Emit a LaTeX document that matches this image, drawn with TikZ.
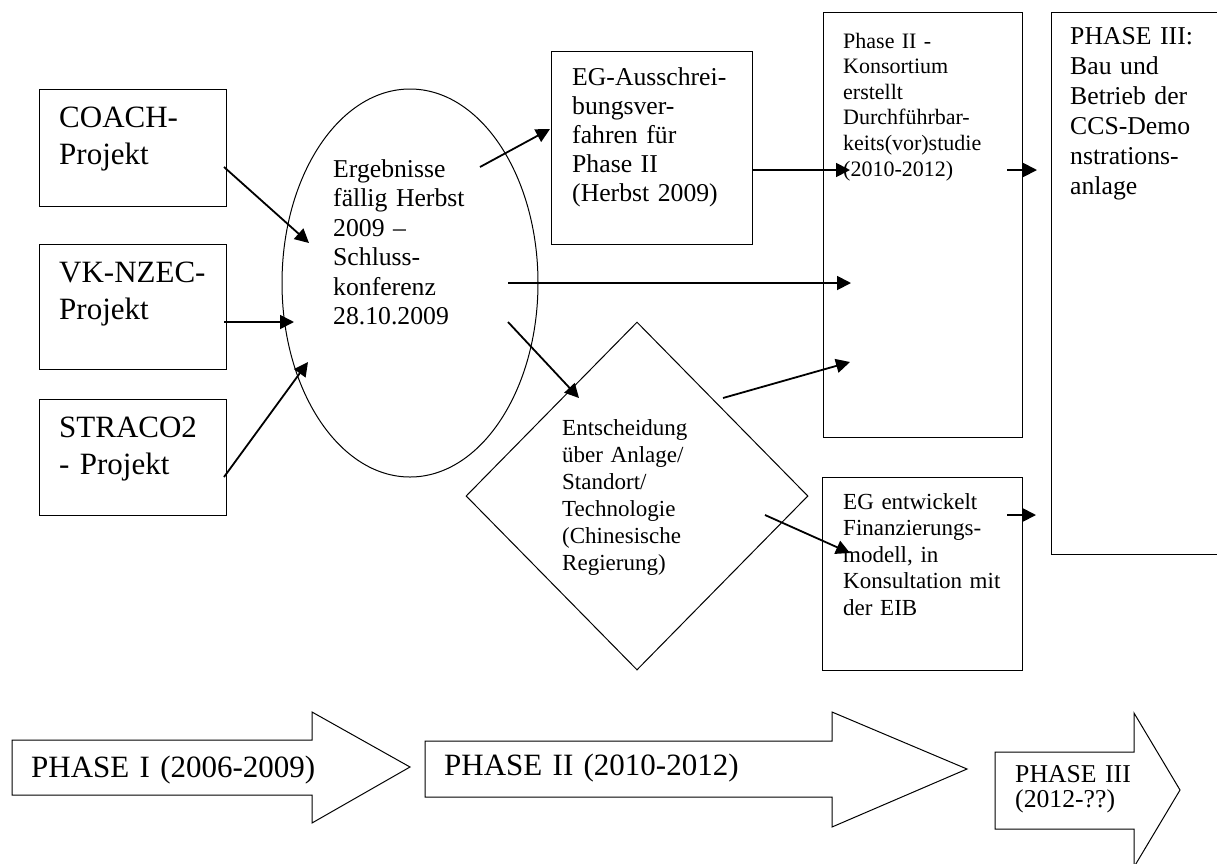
\documentclass[tikz,border=0pt]{standalone}
\usepackage{fontspec}
\setmainfont{Liberation Serif}
\usetikzlibrary{shapes.geometric,arrows.meta}
\begin{document}
\begin{tikzpicture}[x=1pt,y=-1pt,
  box/.style={draw,line width=1.3pt,rectangle,inner sep=0pt,anchor=north west},
  thinshape/.style={draw,line width=1pt,inner sep=0pt},
  txt/.style={anchor=base west,inner sep=0pt,text width=300pt,align=left},
  big/.style={txt,font=\fontsize{31}{37}\selectfont},
  mid/.style={txt,font=\fontsize{25.7}{29.5}\selectfont},
  small/.style={txt,font=\fontsize{23}{26.8}\selectfont},
  smaller/.style={txt,font=\fontsize{22}{25.6}\selectfont},
  conn/.style={line width=1.8pt,-{Triangle[length=14pt,width=14pt]}},
  phasearrow/.style={draw,line width=1pt,line join=miter}
]
\useasboundingbox (0,0) rectangle (1217,863);
\clip (0,0) rectangle (1217,863);

% boxes
\node[box,minimum width=187pt,minimum height=117pt] (coach) at (39,89) {};
\node[box,minimum width=187pt,minimum height=125pt] (vk) at (39,244) {};
\node[box,minimum width=187pt,minimum height=116pt] (straco) at (39,399) {};
\node[box,minimum width=201pt,minimum height=193pt] (egaus) at (551,51) {};
\node[box,minimum width=199pt,minimum height=425pt] (ph2) at (823,12) {};
\node[box,minimum width=200pt,minimum height=542pt] (ph3) at (1051,12) {};
\node[box,minimum width=200pt,minimum height=193pt] (fin) at (822,477) {};
\node[thinshape,ellipse,minimum width=256pt,minimum height=388pt] (erg) at (410,283) {};
\node[thinshape,diamond,minimum width=342pt,minimum height=348pt] (dec) at (637,496) {};

% texts
\node[big] (tcoach) at (59,127) {COACH-\\Projekt};
\node[big] (tvk) at (59,282) {VK-NZEC-\\Projekt};
\node[big] (tstraco) at (59,437) {STRACO2\\- Projekt};
\node[mid] (terg) at (333,177) {Ergebnisse\\fällig Herbst\\2009 –\\Schluss-\\konferenz\\28.10.2009};
\node[mid,font=\fontsize{25.7}{29.2}\selectfont] (tegaus) at (572,85) {EG-Ausschrei-\\bungsver-\\fahren für\\Phase II\\(Herbst 2009)};
\node[smaller] (tph2) at (843,48) {Phase II -\\Konsortium\\erstellt\\Durchführbar-\\keits(vor)studie\\(2010-2012)};
\node[mid,font=\fontsize{25.7}{30}\selectfont] (tph3) at (1070,44) {PHASE III:\\Bau und\\Betrieb der\\CCS-Demo\\nstrations-\\anlage};
\node[small,font=\fontsize{23}{27}\selectfont] (tdec) at (562,435) {Entscheidung\\über Anlage/\\Standort/\\Technologie\\(Chinesische\\Regierung)};
\node[small,font=\fontsize{23}{26.5}\selectfont] (tfin) at (843,509) {EG entwickelt\\Finanzierungs-\\modell, in\\Konsultation mit\\der EIB};

% connector endpoints
\coordinate (a1s) at (224,167); \coordinate (a1e) at (309,243);
\coordinate (a2s) at (224,322); \coordinate (a2e) at (294,322);
\coordinate (a3s) at (224,477); \coordinate (a3e) at (308,362);
\coordinate (a4s) at (480,167); \coordinate (a4e) at (550,129);
\coordinate (a5s) at (508,283); \coordinate (a5e) at (851,283);
\coordinate (a6s) at (508,322); \coordinate (a6e) at (579,398);
\coordinate (a7s) at (752,170); \coordinate (a7e) at (850,170);
\coordinate (a8s) at (1007,170); \coordinate (a8e) at (1037,170);
\coordinate (a9s) at (723,398); \coordinate (a9e) at (850,362);
\coordinate (a10s) at (765,515); \coordinate (a10e) at (850,553);
\coordinate (a11s) at (1007,515); \coordinate (a11e) at (1036,515);

\draw[conn] (a1s) -- (a1e);
\draw[conn] (a2s) -- (a2e);
\draw[conn] (a3s) -- (a3e);
\draw[conn] (a4s) -- (a4e);
\draw[conn] (a5s) -- (a5e);
\draw[conn] (a6s) -- (a6e);
\draw[conn] (a7s) -- (a7e);
\draw[conn] (a8s) -- (a8e);
\draw[conn] (a9s) -- (a9e);
\draw[conn] (a10s) -- (a10e);
\draw[conn] (a11s) -- (a11e);

% phase arrows
\draw[phasearrow] (12,740) -- (312,740) -- (312,712) -- (410,767) -- (312,823) -- (312,795) -- (12,795) -- cycle;
\draw[phasearrow] (425,741) -- (832,741) -- (832,712) -- (967,769) -- (832,827) -- (832,797) -- (425,797) -- cycle;
\draw[phasearrow] (995,752) -- (1134,752) -- (1134,713) -- (1180,790) -- (1134,867) -- (1134,829) -- (995,829) -- cycle;
\node[big] (tp1) at (31,777) {PHASE I (2006-2009)};
\node[big] (tp2) at (444,775) {PHASE II (2010-2012)};
\node[mid,font=\fontsize{25.7}{25}\selectfont] (tp3) at (1015,782) {PHASE III\\(2012-??)};
\end{tikzpicture}
\end{document}
